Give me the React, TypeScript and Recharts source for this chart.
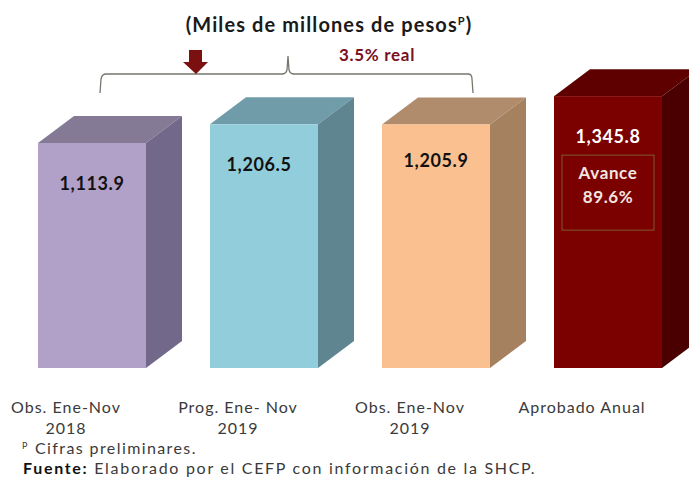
import React from 'react'
import { BarChart, Bar, XAxis, YAxis, LabelList, Cell } from 'recharts'

const categories = ['Obs. Ene-Nov|2018', 'Prog. Ene- Nov|2019', 'Obs. Ene-Nov|2019', 'Aprobado Anual']
const values = [1113.9, 1206.5, 1205.9, 1345.8]

const fronts = ['#B1A0C7', '#92CDDC', '#FAC090', '#7B0000']
const tops = ['#857A96', '#6F9CA8', '#B08C6C', '#5E0000']
const sides = ['#72698A', '#5F8591', '#A58160', '#4A0000']
const labelColors = ['#111111', '#111111', '#111111', '#FFFFFF']
const labelNudge = [{ x: 0, y: 0 }, { x: -5, y: 0 }, { x: 0, y: -4 }, { x: 0, y: 0 }]

const FONT = 'Lato, "Open Sans", sans-serif'
const DX = 36
const DY = 27

const chartData = categories.map((name, i) => ({ name, value: values[i] }))

const Box3D = (props: any) => {
  const { x, y, width, height, index } = props
  const bottom = y + height
  return (
    <g>
      <polygon
        points={`${x},${y} ${x + DX},${y - DY} ${x + width + DX},${y - DY} ${x + width},${y}`}
        fill={tops[index]}
      />
      <polygon
        points={`${x + width},${y} ${x + width + DX},${y - DY} ${x + width + DX},${bottom - DY} ${x + width},${bottom}`}
        fill={sides[index]}
      />
      <rect x={x} y={y} width={width} height={height} fill={fronts[index]} />
    </g>
  )
}

// the last bar also carries the "Avance" box, it has to sit above the bar layer
const ValueLabel = (props: any) => {
  const { x, y, width, value, index } = props
  const cx = x + width / 2
  return (
    <g>
      <text
        x={cx + labelNudge[index].x}
        y={y + 41 + labelNudge[index].y}
        dy={6}
        textAnchor="middle"
        fontFamily={FONT}
        fontSize={18}
        fontWeight={700}
        letterSpacing={0.6}
        fill={labelColors[index]}
      >
        {value.toLocaleString('en-US', { minimumFractionDigits: 1 })}
      </text>
      {index === 3 && (
        <g>
          <rect x={cx - 46} y={y + 59} width={92} height={75} fill="none" stroke="#7F5A2E" strokeWidth={1} />
          <text textAnchor="middle" fontFamily={FONT} fontSize={17} fontWeight={700} letterSpacing={0.6} fill="#F2E6E0">
            <tspan x={cx} y={y + 83}>Avance</tspan>
            <tspan x={cx} y={y + 107}>89.6%</tspan>
          </text>
        </g>
      )}
    </g>
  )
}

const CategoryTick = (props: any) => {
  const { x, payload } = props
  const lines = payload.value.split('|')
  return (
    <text textAnchor="middle" fontFamily={FONT} fontSize={16} letterSpacing={1} fill="#3a3a3a">
      {lines.map((line: string, i: number) => (
        <tspan key={line} x={x - 26} y={413 + i * 21}>
          {line}
        </tspan>
      ))}
    </text>
  )
}

export default function App() {
  return (
    <div style={{ position: 'absolute', left: 0, top: 0, width: 689, height: 477, overflow: 'hidden', background: '#fff' }}>
      <BarChart
        width={694}
        height={477}
        data={chartData}
        margin={{ top: 65, right: 0, left: 6, bottom: 0 }}
        barCategoryGap={0}
      >
        <XAxis dataKey="name" height={109} axisLine={false} tickLine={false} interval={0} tick={<CategoryTick />} />
        <YAxis hide domain={[0, 1500]} />
        <Bar dataKey="value" barSize={108} shape={<Box3D />} isAnimationActive={false}>
          {chartData.map((d) => (
            <Cell key={d.name} />
          ))}
          <LabelList dataKey="value" content={<ValueLabel />} />
        </Bar>

        <text x={329} y={32} textAnchor="middle" fontFamily={FONT} fontSize={20} fontWeight={700} letterSpacing={1.1} fill="#1a1a1a">
          (Miles de millones de pesos
          <tspan dy={-7} fontSize={11}>P</tspan>
          <tspan dy={7}>)</tspan>
        </text>
        <text x={377} y={61} textAnchor="middle" fontFamily={FONT} fontSize={17} fontWeight={700} letterSpacing={0.7} fill="#7B1020">
          3.5% real
        </text>
        <path
          d="M100 93 L101 79 Q102 74 106 74 L282 74 Q286 74 287 70 L288 56 L289 70 Q290 74 294 74 L468 74 Q472 74 472 79 L473 93"
          fill="none"
          stroke="#77776f"
          strokeWidth={1.3}
        />
        <polygon points="189,50 202,50 202,62 208,62 196,74 183,62 189,62" fill="#7B1010" />

        <text fontFamily={FONT} fontSize={16} letterSpacing={1.4} fill="#3a3a3a">
          <tspan x={22} y={449} fontSize={9}>P</tspan>
          <tspan x={35} y={454}>Cifras preliminares.</tspan>
        </text>
        <text x={23} y={474} fontFamily={FONT} fontSize={16} letterSpacing={1.7} fill="#3a3a3a">
          <tspan fontWeight={700} fill="#111111">Fuente:</tspan> Elaborado por el CEFP con información de la SHCP.
        </text>
      </BarChart>
    </div>
  )
}
